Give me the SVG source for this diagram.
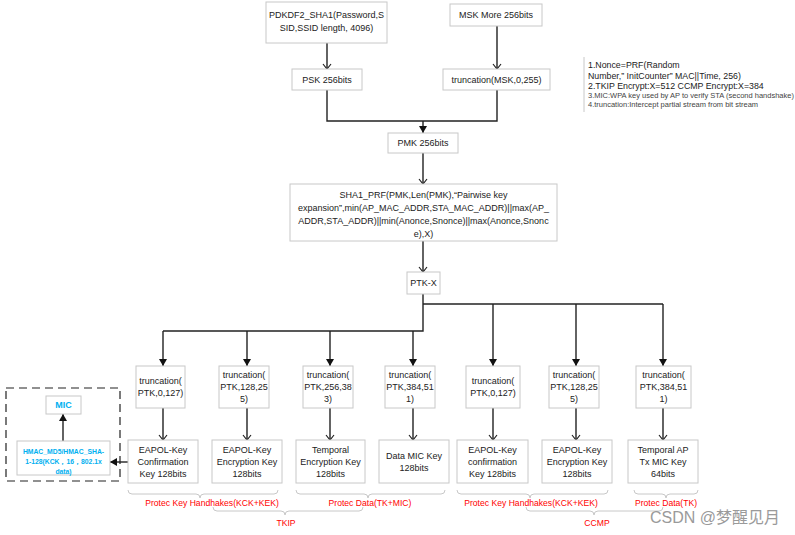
<svg xmlns="http://www.w3.org/2000/svg" width="795" height="535" viewBox="0 0 795 535">
<style>
text{font-family:"Liberation Sans",Arial,sans-serif;font-size:9px;fill:#222;text-anchor:middle}
.box{fill:#fff;stroke:#c8c8c8;stroke-width:1}
.ln{fill:none;stroke:#222;stroke-width:1.4}
.br{fill:none;stroke:#c8c8c8;stroke-width:1}
.red{fill:#ff0000;font-size:8.6px}
.blue{fill:#00b0f0}
.hm{font-size:6.8px;font-weight:bold}
.note{text-anchor:start;font-size:8.8px}
.note2{text-anchor:start;font-size:7.5px;fill:#444}
</style>
<defs>
<marker id="open" markerWidth="10" markerHeight="10" refX="8" refY="5" orient="auto" markerUnits="userSpaceOnUse" viewBox="0 0 10 10">
<path d="M3,1 L8,5 L3,9" fill="none" stroke="#222" stroke-width="1.2"/>
</marker>
<marker id="fill" markerWidth="10" markerHeight="10" refX="9" refY="5" orient="auto" markerUnits="userSpaceOnUse" viewBox="0 0 10 10">
<path d="M2,1 L9,5 L2,9 Z" fill="#111"/>
</marker>
</defs>
<rect width="795" height="535" fill="#fff"/>

<g id="connectors">
<line class="ln" x1="327" y1="43" x2="327" y2="69" marker-end="url(#open)"/>
<line class="ln" x1="497" y1="26" x2="497" y2="69" marker-end="url(#open)"/>
<polyline class="ln" points="327,90 327,121 497,121 497,90"/>
<line class="ln" x1="423" y1="121" x2="423" y2="133" marker-end="url(#fill)"/>
<line class="ln" x1="423" y1="153" x2="423" y2="184" marker-end="url(#open)"/>
<line class="ln" x1="423" y1="241" x2="423" y2="272" marker-end="url(#open)"/>
<polyline class="ln" points="423,294 423,331 163,331"/>
<polyline class="ln" points="423,304 663,304"/>
<line class="ln" x1="163" y1="331" x2="163" y2="366" marker-end="url(#fill)"/>
<line class="ln" x1="247" y1="331" x2="247" y2="366" marker-end="url(#fill)"/>
<line class="ln" x1="330" y1="331" x2="330" y2="366" marker-end="url(#fill)"/>
<line class="ln" x1="413" y1="331" x2="413" y2="366" marker-end="url(#fill)"/>
<line class="ln" x1="493" y1="304" x2="493" y2="366" marker-end="url(#fill)"/>
<line class="ln" x1="576" y1="304" x2="576" y2="366" marker-end="url(#fill)"/>
<line class="ln" x1="663" y1="304" x2="663" y2="366" marker-end="url(#fill)"/>
<line class="ln" x1="163" y1="408" x2="163" y2="440" marker-end="url(#open)"/>
<line class="ln" x1="247" y1="408" x2="247" y2="440" marker-end="url(#open)"/>
<line class="ln" x1="330" y1="408" x2="330" y2="440" marker-end="url(#open)"/>
<line class="ln" x1="413" y1="408" x2="413" y2="440" marker-end="url(#open)"/>
<line class="ln" x1="493" y1="408" x2="493" y2="440" marker-end="url(#open)"/>
<line class="ln" x1="576" y1="408" x2="576" y2="440" marker-end="url(#open)"/>
<line class="ln" x1="663" y1="408" x2="663" y2="440" marker-end="url(#open)"/>
<line class="ln" x1="128" y1="462" x2="110" y2="462" marker-end="url(#fill)"/>
<line class="ln" x1="63" y1="441" x2="63" y2="414" marker-end="url(#fill)"/>
</g>

<g id="pdkdf2"><rect class="box" x="266" y="2" width="121" height="41"/>
<text x="326.5" y="18">PDKDF2_SHA1(Password,S</text><text x="326.5" y="31">SID,SSID length, 4096)</text></g>
<g id="msk"><rect class="box" x="450" y="4" width="92" height="22"/><text x="496" y="18">MSK More 256bits</text></g>
<g id="psk"><rect class="box" x="292" y="69" width="70" height="21"/><text x="327" y="83">PSK 256bits</text></g>
<g id="truncmsk"><rect class="box" x="443" y="69" width="107" height="21"/><text x="496.5" y="83">truncation(MSK,0,255)</text></g>
<g id="pmk"><rect class="box" x="388" y="133" width="70" height="20"/><text x="423" y="146">PMK 256bits</text></g>
<g id="sha1prf"><rect class="box" x="290" y="184" width="267" height="57"/>
<text x="423.5" y="198">SHA1_PRF(PMK,Len(PMK),“Pairwise key</text>
<text x="423.5" y="211">expansion”,min(AP_MAC_ADDR,STA_MAC_ADDR)||max(AP_</text>
<text x="423.5" y="224">ADDR,STA_ADDR)||min(Anonce,Snonce)||max(Anonce,Snonc</text>
<text x="423.5" y="237">e),X)</text></g>
<g id="ptkx"><rect class="box" x="407" y="272" width="33" height="22"/><text x="423.5" y="286">PTK-X</text></g>

<g id="t1"><rect class="box" x="136" y="366" width="49" height="42"/><text x="160.5" y="384">truncation(</text><text x="160.5" y="396">PTK,0,127)</text></g>
<g id="t2"><rect class="box" x="219" y="366" width="50" height="42"/><text x="244" y="378">truncation(</text><text x="244" y="390">PTK,128,25</text><text x="244" y="402">5)</text></g>
<g id="t3"><rect class="box" x="303" y="366" width="50" height="42"/><text x="328" y="378">truncation(</text><text x="328" y="390">PTK,256,38</text><text x="328" y="402">3)</text></g>
<g id="t4"><rect class="box" x="385" y="366" width="50" height="42"/><text x="410" y="378">truncation(</text><text x="410" y="390">PTK,384,51</text><text x="410" y="402">1)</text></g>
<g id="t5"><rect class="box" x="466" y="366" width="54" height="42"/><text x="493" y="384">truncation(</text><text x="493" y="396">PTK,0,127)</text></g>
<g id="t6"><rect class="box" x="549" y="366" width="50" height="42"/><text x="574" y="378">truncation(</text><text x="574" y="390">PTK,128,25</text><text x="574" y="402">5)</text></g>
<g id="t7"><rect class="box" x="636" y="366" width="55" height="42"/><text x="663.5" y="378">truncation(</text><text x="663.5" y="390">PTK,384,51</text><text x="663.5" y="402">1)</text></g>

<g id="k1"><rect class="box" x="128" y="440" width="70" height="43"/><text x="163" y="453">EAPOL-Key</text><text x="163" y="465">Confirmation</text><text x="163" y="477">Key 128bits</text></g>
<g id="k2"><rect class="box" x="212" y="440" width="70" height="43"/><text x="247" y="453">EAPOL-Key</text><text x="247" y="465">Encryption Key</text><text x="247" y="477">128bits</text></g>
<g id="k3"><rect class="box" x="296" y="440" width="69" height="43"/><text x="330.5" y="453">Temporal</text><text x="330.5" y="465">Encryption Key</text><text x="330.5" y="477">128bits</text></g>
<g id="k4"><rect class="box" x="379" y="440" width="70" height="43"/><text x="414" y="459">Data MIC Key</text><text x="414" y="471">128bits</text></g>
<g id="k5"><rect class="box" x="457" y="440" width="71" height="43"/><text x="492.5" y="453">EAPOL-Key</text><text x="492.5" y="465">confirmation</text><text x="492.5" y="477">Key 128bits</text></g>
<g id="k6"><rect class="box" x="542" y="440" width="70" height="43"/><text x="577" y="453">EAPOL-Key</text><text x="577" y="465">Encryption Key</text><text x="577" y="477">128bits</text></g>
<g id="k7"><rect class="box" x="628" y="440" width="70" height="43"/><text x="663" y="453">Temporal AP</text><text x="663" y="465">Tx MIC Key</text><text x="663" y="477">64bits</text></g>

<g id="micgroup">
<rect x="6" y="388" width="114" height="93" fill="none" stroke="#222" stroke-width="1.2" stroke-dasharray="8,5"/>
<g id="mic"><rect class="box" x="46" y="396" width="35" height="18"/><text class="blue" x="63.5" y="408" style="font-weight:bold">MIC</text></g>
<g id="hmac"><rect class="box" x="17" y="441" width="93" height="34"/>
<text class="blue hm" x="63.5" y="454">HMAC_MD5/HMAC_SHA-</text>
<text class="blue hm" x="63.5" y="464">1-128(KCK，16，802.1x</text>
<text class="blue hm" x="63.5" y="474">data)</text></g>
</g>

<g id="note">
<line x1="584" y1="57" x2="584" y2="112" stroke="#c8c8c8" stroke-width="1"/>
<text class="note" x="588" y="68">1.Nonce=PRF(Random</text>
<text class="note" x="588" y="79">Number,” InitCounter” MAC||Time, 256)</text>
<text class="note" x="588" y="89">2.TKIP Encrypt:X=512 CCMP Encrypt:X=384</text>
<text class="note2" x="588" y="98">3.MIC:WPA key used by AP to verify STA (second handshake)</text>
<text class="note2" x="588" y="107">4.truncation:Intercept partial stream from bit stream</text>
</g>

<g id="braces">
<path class="br" d="M128,490 Q128,494 132,494 L196,494 Q200,494 200,498 Q200,494 204,494 L274,494 Q278,494 278,490"/>
<path class="br" d="M296,490 Q296,494 300,494 L364,494 Q368,494 368,498 Q368,494 372,494 L441,494 Q445,494 445,490"/>
<path class="br" d="M213,507 Q213,511 217,511 L281,511 Q285,511 285,515 Q285,511 289,511 L359,511 Q363,511 363,507"/>
<path class="br" d="M457,490 Q457,494 461,494 L526,494 Q530,494 530,498 Q530,494 534,494 L604,494 Q608,494 608,490"/>
<path class="br" d="M634,490 Q634,494 638,494 L662,494 Q666,494 666,498 Q666,494 670,494 L694,494 Q698,494 698,490"/>
<path class="br" d="M526,507 Q526,511 530,511 L590,511 Q594,511 594,515 Q594,511 598,511 L659,511 Q663,511 663,507"/>
<text class="red" x="212" y="506">Protec Key Handhakes(KCK+KEK)</text>
<text class="red" x="370" y="506">Protec Data(TK+MIC)</text>
<text class="red" x="286" y="526">TKIP</text>
<text class="red" x="531" y="506">Protec Key Handhakes(KCK+KEK)</text>
<text class="red" x="666" y="506">Protec Data(TK)</text>
<text class="red" x="597" y="526">CCMP</text>
</g>

<text x="715" y="523" style="font-size:16px;fill:#9a9a9a;font-family:'Liberation Sans','Noto Sans CJK SC',sans-serif">CSDN @梦醒见月</text>
</svg>
